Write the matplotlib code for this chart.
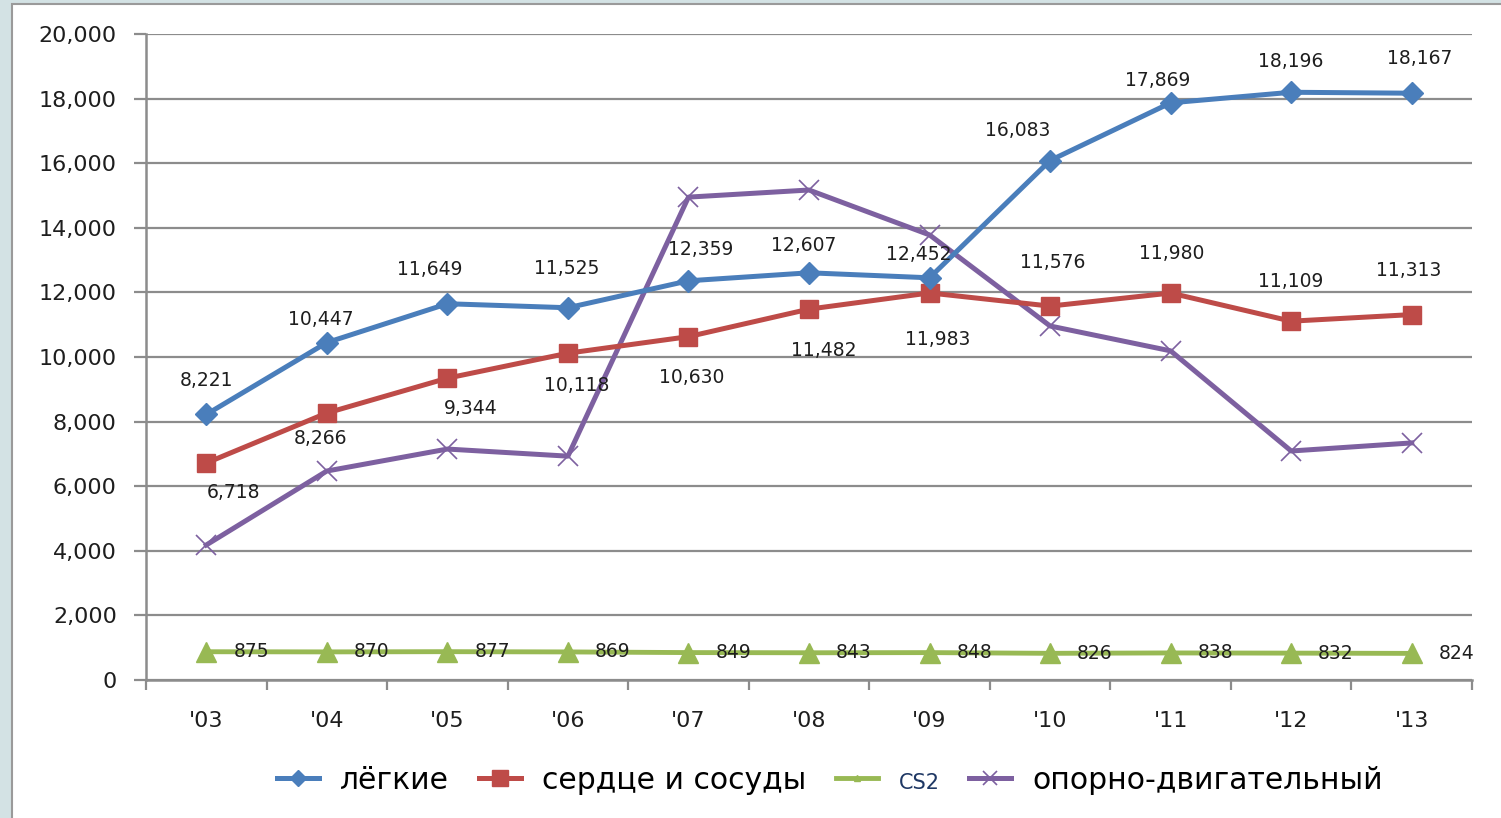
import matplotlib.pyplot as plt
import matplotlib.patches as patches
from matplotlib.lines import Line2D
from matplotlib.ticker import FuncFormatter
import numpy as np

# Chart data
years = ["'03", "'04", "'05", "'06", "'07", "'08", "'09", "'10", "'11", "'12", "'13"]
lungs = [8221, 10447, 11649, 11525, 12359, 12607, 12452, 16083, 17869, 18196, 18167]
heart = [6718, 8266, 9344, 10118, 10630, 11482, 11983, 11576, 11980, 11109, 11313]
cs2 = [875, 870, 877, 869, 849, 843, 848, 826, 838, 832, 824]
musculo = [4180, 6470, 7150, 6930, 14950, 15170, 13780, 10960, 10190, 7090, 7340]

# label offsets in pixels (dx, dy)
lungs_off = [(0, 34), (-6, 23), (-18, 34), (-1, 39), (12, 31), (-5, 27),
             (-11, 23), (-32, 30), (-13, 22), (0, 31), (8, 35)]
heart_off = [(27, -29), (-6, -25), (23, -30), (9, -32), (3, -41), (15, -41),
             (8, -47), (3, 44), (1, 40), (0, 40), (-3, 44)]

c_blue = '#4A7EBB'
c_red = '#BE4B48'
c_green = '#98B954'
c_purple = '#7D60A0'

fig = plt.figure(figsize=(15.01, 8.18), dpi=100)
fig.patch.set_facecolor('#d3e2e4')
panel = patches.Rectangle((12 / 1501, -0.01), 1.0, 1.0 - 4 / 818 + 0.01,
                          transform=fig.transFigure, facecolor='white',
                          edgecolor='#9a9a9a', linewidth=1.5, zorder=-5)
fig.patches.append(panel)

ax = fig.add_axes([146 / 1501, 138 / 818, (1472 - 146) / 1501, (784 - 138) / 818])
ax.set_zorder(2)
ax.set_facecolor('none')
x = np.arange(len(years))

ax.plot(x, cs2, color=c_green, lw=3.5, marker='^', ms=14, zorder=3)
ax.plot(x, musculo, color=c_purple, lw=3.6, marker='x', ms=15, mew=1.2, zorder=4)
ax.plot(x, heart, color=c_red, lw=3.6, marker='s', ms=13, zorder=5)
ax.plot(x, lungs, color=c_blue, lw=3.6, marker='D', ms=11, zorder=6)

lab = dict(fontsize=13.5, color='#1e1e1e', ha='center', va='center',
           textcoords='offset pixels', zorder=7)
for i in range(len(years)):
    ax.annotate(f'{lungs[i]:,}', (x[i], lungs[i]), xytext=lungs_off[i], **lab)
    ax.annotate(f'{heart[i]:,}', (x[i], heart[i]), xytext=heart_off[i], **lab)
    ax.annotate(f'{cs2[i]:,}', (x[i], cs2[i]), xytext=(27, 0),
                fontsize=13.5, color='#1e1e1e', ha='left', va='center',
                textcoords='offset pixels', zorder=7, annotation_clip=False)

ax.set_xlim(-0.5, len(years) - 0.5)
ax.set_ylim(0, 20000)
ax.set_yticks(np.arange(0, 20001, 2000))
ax.yaxis.set_major_formatter(FuncFormatter(lambda v, p: f'{int(v):,}'))
ax.grid(axis='y', color='#8c8c8c', lw=1.6)
ax.set_axisbelow(True)

ax.set_xticks(x)
ax.set_xticklabels(years)
ax.set_xticks(np.arange(-0.5, len(years), 1), minor=True)
ax.tick_params(axis='x', which='major', length=0, pad=22, labelsize=16, labelcolor='#1e1e1e')
ax.tick_params(axis='x', which='minor', length=7, width=1.6, color='#8c8c8c', direction='out')
ax.tick_params(axis='y', length=9, width=1.6, color='#8c8c8c', pad=12,
               labelsize=16, labelcolor='#1e1e1e')

for s in ['top', 'right']:
    ax.spines[s].set_visible(False)
for s in ['left', 'bottom']:
    ax.spines[s].set_color('#8c8c8c')
    ax.spines[s].set_linewidth(1.8)

handles = [
    Line2D([], [], color=c_blue, lw=3.6, marker='D', ms=8),
    Line2D([], [], color=c_red, lw=3.6, marker='s', ms=11),
    Line2D([], [], color=c_green, lw=3.5, marker='^', ms=4),
    Line2D([], [], color=c_purple, lw=3.6, marker='x', ms=10, mew=1.2),
]
names = ['лёгкие', 'сердце и сосуды', 'CS2', 'опорно-двигательный']
leg = fig.legend(handles, names, loc='center', bbox_to_anchor=(0.553, 0.046),
                 ncol=4, frameon=False, handlelength=1.4,
                 columnspacing=1.0, handletextpad=0.7,
                 prop={'family': 'DejaVu Sans', 'size': 21.5})
leg.get_texts()[2].set_fontsize(15)
leg.get_texts()[2].set_color('#1F3864')

fig.savefig('out.png', dpi=100, facecolor=fig.get_facecolor())
